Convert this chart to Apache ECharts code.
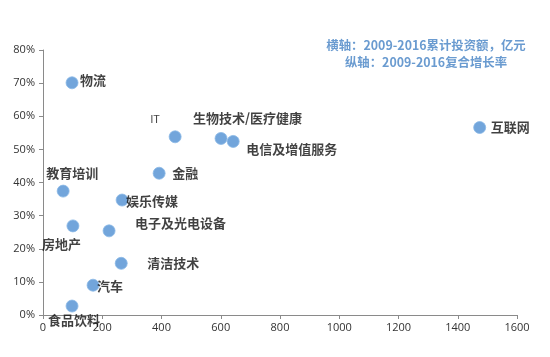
<!DOCTYPE html>
<html><head><meta charset="utf-8">
<script src="https://cdn.jsdelivr.net/npm/echarts@6/dist/echarts.min.js"></script>
<style>html,body{margin:0;padding:0;background:#fff}#c{width:550px;height:357px}</style>
</head><body><div id="c"></div>
<script>
const names = ['物流','IT','生物技术/医疗健康','电信及增值服务','互联网','金融','教育培训','娱乐传媒','电子及光电设备','房地产','清洁技术','汽车','食品饮料'];
const investment = [98, 446, 601, 642, 1474, 392, 68, 267, 223, 101, 264, 169, 98];
const growth = [70.1, 53.8, 53.3, 52.4, 56.6, 42.8, 37.4, 34.7, 25.4, 26.9, 15.6, 9.0, 2.7];
const labelOffsets = [[8,-3],[-25,-18],[-28,-20],[13,8],[11,0],[13,0],[-17,-18],[4,1],[26,-8],[-31,18],[26,0],[4,1],[-24,14]];
const xTicks = [0, 200, 400, 600, 800, 1000, 1200, 1400, 1600];
const yTicks = [0, 10, 20, 30, 40, 50, 60, 70, 80];

const chart = echarts.init(document.getElementById('c'));
const data = names.map((n, i) => ({
  value: [investment[i], growth[i]],
  name: n,
  label: {
    show: true, formatter: n, position: 'inside', align: 'left', verticalAlign: 'middle',
    offset: labelOffsets[i],
    fontSize: n === 'IT' ? 11 : 13,
    fontWeight: n === 'IT' ? 'normal' : 'bold',
    color: '#111',
    fontFamily: '"Noto Sans CJK SC", sans-serif'
  }
}));
chart.setOption({
  animation: false,
  title: {
    text: '横轴：2009-2016累计投资额，亿元\n纵轴：2009-2016复合增长率',
    left: 421, top: 32, textAlign: 'center',
    textStyle: { fontSize: 12.4, lineHeight: 17, color: '#6a9bd0', fontWeight: 'bold', fontFamily: '"Noto Sans CJK SC", sans-serif' }
  },
  grid: { left: 43, right: 33, top: 50, bottom: 42 },
  xAxis: {
    type: 'value', min: xTicks[0], max: xTicks[xTicks.length-1], interval: 200,
    splitLine: { show: false },
    axisLine: { show: true, lineStyle: { color: '#8a8a8a' } },
    axisTick: { show: true, length: 4, lineStyle: { color: '#8a8a8a' } },
    axisLabel: { color: '#333', fontSize: 11, margin: 7, formatter: v => String(v), fontFamily: '"Open Sans", sans-serif' }
  },
  yAxis: {
    type: 'value', min: yTicks[0], max: yTicks[yTicks.length-1], interval: 10,
    splitLine: { show: false },
    axisLine: { show: true, lineStyle: { color: '#8a8a8a' } },
    axisTick: { show: true, length: 4, lineStyle: { color: '#8a8a8a' } },
    axisLabel: { color: '#333', fontSize: 11, margin: 8, formatter: '{value}%', fontFamily: '"Open Sans", sans-serif' }
  },
  series: [{
    type: 'scatter', symbolSize: 12, data: data,
    itemStyle: { color: '#4f8fd2', borderColor: '#8ab8e6', borderWidth: 1 }
  }]
});
</script></body></html>
